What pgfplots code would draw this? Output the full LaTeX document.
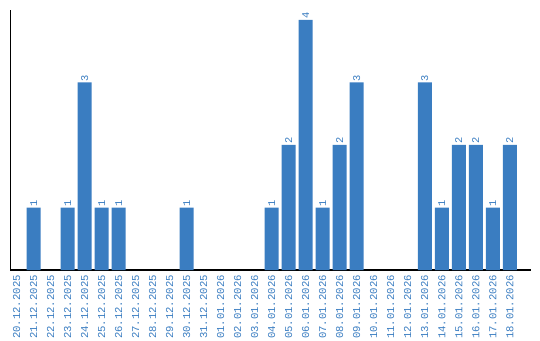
\documentclass[border=0pt]{standalone}
\usepackage{pgfplots}
\pgfplotsset{compat=1.18}
\usepackage{fontspec}
\setmainfont{Liberation Sans}
\newfontfamily\lab{Liberation Mono}
\definecolor{barblue}{RGB}{58,125,193}
\begin{document}
\begin{tikzpicture}[x=1pt,y=1pt]
\useasboundingbox (-10.5,-70) rectangle (529.5,270);
\begin{axis}[
  at={(0,0)}, anchor=south west,
  scale only axis, width=520pt, height=260pt,
  xmin=-0.365, xmax=30.22, ymin=0, ymax=4.16,
  axis x line=bottom, axis y line=left,
  axis line style={-, line width=1.3pt, black},
  ytick=\empty,
  xtick={0,...,29},
  major tick length=0pt,
  xticklabels={20.12.2025,21.12.2025,22.12.2025,23.12.2025,24.12.2025,25.12.2025,26.12.2025,27.12.2025,28.12.2025,29.12.2025,30.12.2025,31.12.2025,01.01.2026,02.01.2026,03.01.2026,04.01.2026,05.01.2026,06.01.2026,07.01.2026,08.01.2026,09.01.2026,10.01.2026,11.01.2026,12.01.2026,13.01.2026,14.01.2026,15.01.2026,16.01.2026,17.01.2026,18.01.2026},
  xticklabel style={yshift=-5pt, rotate=90, anchor=east, inner sep=0pt, font=\lab\fontsize{10.6}{12}\selectfont, text=barblue},
  ybar, bar width=14pt,
  nodes near coords,
  every node near coord/.append style={yshift=1pt, rotate=90, anchor=west, inner sep=0pt, font=\lab\fontsize{10.4}{12}\selectfont, text=barblue, /pgf/number format/assume math mode=true},
  clip=false,
]
\addplot[fill=barblue, draw=none] coordinates {
 (1,1) (3,1) (4,3) (5,1) (6,1) (10,1)
 (15,1) (16,2) (17,4) (18,1) (19,2) (20,3)
 (24,3) (25,1) (26,2) (27,2) (28,1) (29,2)
};
\end{axis}
\end{tikzpicture}
\end{document}
